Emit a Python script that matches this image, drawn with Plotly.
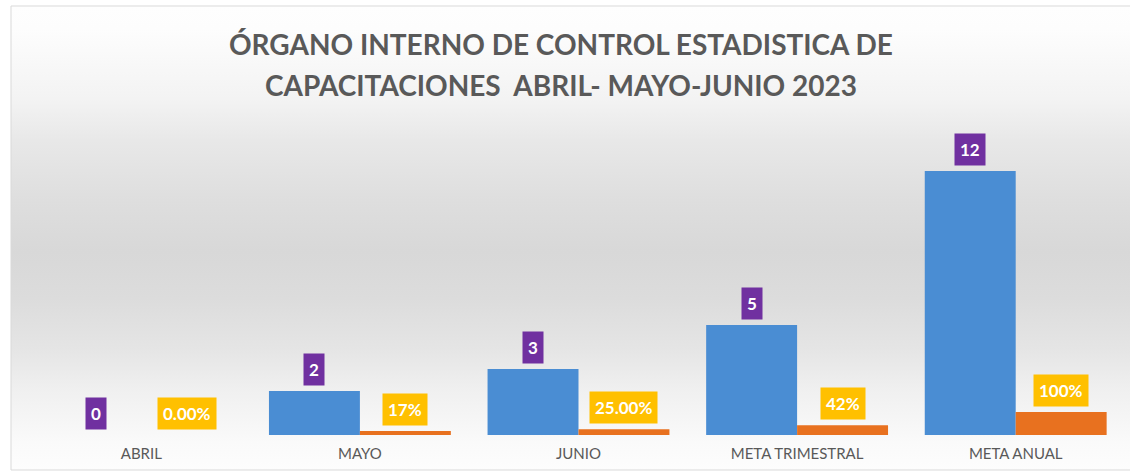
import base64
import plotly.graph_objects as go

categories = ["ABRIL", "MAYO", "JUNIO", "META TRIMESTRAL", "META ANUAL"]
capacitaciones = [0, 2, 3, 5, 12]
porcentajes = [0.0, 0.17, 0.25, 0.42, 1.00]
pct_labels = ["0.00%", "17%", "25.00%", "42%", "100%"]
title_lines = ["ÓRGANO INTERNO DE CONTROL ESTADISTICA DE",
               "CAPACITACIONES  ABRIL- MAYO-JUNIO 2023"]

W, H = 1130, 474
ML, MR, MT, MB = 32, 5, 130, 39
plot_w = W - ML - MR
plot_h = H - MT - MB
cat_px = plot_w / len(categories)
BW = 0.416

svg = ("<svg xmlns='http://www.w3.org/2000/svg' width='100' height='100' preserveAspectRatio='none'>"
       "<defs><linearGradient id='g' x1='0' y1='0' x2='0' y2='1'>"
       "<stop offset='0' stop-color='#fefefe'/>"
       "<stop offset='0.05' stop-color='#fdfdfd'/>"
       "<stop offset='0.2' stop-color='#f3f3f3'/>"
       "<stop offset='0.29' stop-color='#e8e8e8'/>"
       "<stop offset='0.42' stop-color='#dedede'/>"
       "<stop offset='0.53' stop-color='#d8d8d8'/>"
       "<stop offset='0.63' stop-color='#dcdcdc'/>"
       "<stop offset='0.74' stop-color='#e5e5e5'/>"
       "<stop offset='0.83' stop-color='#f0f0f0'/>"
       "<stop offset='0.94' stop-color='#fafafa'/>"
       "<stop offset='1' stop-color='#fdfdfd'/>"
       "</linearGradient></defs><rect width='100' height='100' fill='url(#g)'/></svg>")
src = "data:image/svg+xml;base64," + base64.b64encode(svg.encode()).decode()

fig = go.Figure()
fig.add_trace(go.Bar(x=categories, y=capacitaciones, yaxis="y", width=BW, offset=-BW,
                     marker=dict(color="#4A8DD3", line=dict(width=0)), hoverinfo="skip"))
fig.add_trace(go.Bar(x=categories, y=porcentajes, yaxis="y2", width=BW, offset=0,
                     marker=dict(color="#E8711F", line=dict(width=0)), hoverinfo="skip"))

fx0, fx1 = 11, 1131
fy0, fy1 = 6, 470
px_x = lambda p: (p - ML) / plot_w
px_y = lambda p: (H - MB - p) / plot_h

annotations = []
for i, t in enumerate(title_lines):
    annotations.append(dict(text="<b>%s</b>" % t, xref="paper", yref="paper",
                            x=px_x(561), y=px_y([44, 85][i]), xanchor="center", yanchor="middle",
                            showarrow=False,
                            font=dict(family="Lato", size=28, color="#595959")))
for c, v in zip(categories, capacitaciones):
    annotations.append(dict(text="<b>%d</b>" % v, x=c, y=v, xref="x", yref="y",
                            xshift=-BW / 2 * cat_px, yshift=5, yanchor="bottom",
                            showarrow=False, bgcolor="#7030A0", borderpad=5,
                            font=dict(family="Lato", size=17, color="white")))
for c, v, lab in zip(categories, porcentajes, pct_labels):
    annotations.append(dict(text="<b>%s</b>" % lab, x=c, y=v, xref="x", yref="y2",
                            xshift=BW / 2 * cat_px, yshift=5, yanchor="bottom",
                            showarrow=False, bgcolor="#FFC000", borderpad=5,
                            font=dict(family="Lato", size=17, color="white")))

fig.update_layout(
    width=W, height=H,
    margin=dict(l=ML, r=MR, t=MT, b=MB),
    paper_bgcolor="white", plot_bgcolor="rgba(0,0,0,0)",
    barmode="overlay", showlegend=False,
    xaxis=dict(showgrid=False, zeroline=False, showline=False, ticks="",
               ticklabelstandoff=8,
               tickfont=dict(family="Lato", size=15, color="#595959")),
    yaxis=dict(range=[0, plot_h / 22.0], visible=False, fixedrange=True),
    yaxis2=dict(range=[0, plot_h / 23.0], visible=False, overlaying="y", fixedrange=True),
    images=[dict(source=src, xref="paper", yref="paper", x=px_x(fx0), y=px_y(fy0),
                 sizex=(fx1 - fx0) / plot_w, sizey=(fy1 - fy0) / plot_h,
                 xanchor="left", yanchor="top", sizing="stretch", layer="below")],
    shapes=[dict(type="rect", xref="paper", yref="paper", x0=px_x(fx0), x1=px_x(fx1),
                 y0=px_y(fy1), y1=px_y(fy0), line=dict(color="#D9D9D9", width=1),
                 layer="below")],
    annotations=annotations,
)

fig.write_html("out.html")
